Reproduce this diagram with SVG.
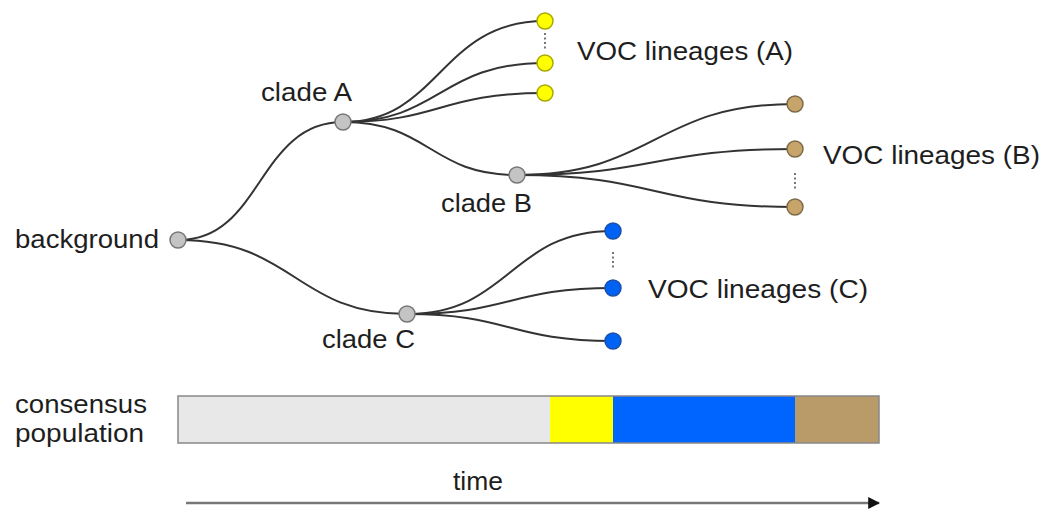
<svg xmlns="http://www.w3.org/2000/svg" width="1045" height="511" viewBox="0 0 1045 511">
  <style>
    text { font-family: "Liberation Sans", Arial, sans-serif; font-size: 26px; fill: #1e1e1e; }
    .edge { fill: none; stroke: #333; stroke-width: 2; }
    .dots { fill: none; stroke: #555; stroke-width: 1.6; stroke-dasharray: 2 2.5; }
    .clade { fill: #c4c4c4; stroke: #777; stroke-width: 1.5; }
    .volA { fill: #ffff00; stroke: #a8a800; stroke-width: 1.5; }
    .volB { fill: #c6a46a; stroke: #7d6a48; stroke-width: 1.5; }
    .volC { fill: #0062f5; stroke: #1d4fa8; stroke-width: 1.5; }
    .seg { stroke: none; }
  </style>
  <defs>
    <marker id="arrow" viewBox="0 0 10 10" refX="9" refY="5" markerWidth="12" markerHeight="12" markerUnits="userSpaceOnUse" orient="auto">
      <path d="M0,0 L10,5 L0,10 z" fill="#111"/>
    </marker>
  </defs>
  <rect width="1045" height="511" fill="#fff"/>

  <!-- tree branches -->
  <g id="connectors">
    <path class="edge" d="M179,240 C262,240 258,122 343,122"/>
    <path class="edge" d="M179,240 C295,240 295,314 407,314"/>
    <path class="edge" d="M343,122 C440,122 440,21 545,21"/>
    <path class="edge" d="M343,122 C440,122 440,63 545,63"/>
    <path class="edge" d="M343,122 C440,122 440,93 545,93"/>
    <path class="edge" d="M343,122 C430,122 430,175 517,175"/>
    <path class="edge" d="M517,175 C655,175 655,104 795,104"/>
    <path class="edge" d="M517,175 C655,175 655,149 795,149"/>
    <path class="edge" d="M517,175 C655,175 655,207 795,207"/>
    <path class="edge" d="M407,314 C510,314 510,231 613,231"/>
    <path class="edge" d="M407,314 C510,314 510,288 613,288"/>
    <path class="edge" d="M407,314 C510,314 510,341 613,341"/>
    <line class="dots" x1="545" y1="33" x2="545" y2="51"/>
    <line class="dots" x1="795" y1="173" x2="795" y2="190"/>
    <line class="dots" x1="613" y1="252" x2="613" y2="269"/>
  </g>

  <g id="background">
    <circle class="clade" cx="178" cy="240" r="8"/>
    <text x="15" y="248" textLength="144" lengthAdjust="spacingAndGlyphs">background</text>
  </g>
  <g id="cladeA">
    <circle class="clade" cx="343" cy="122" r="8"/>
    <text x="261" y="101" textLength="91" lengthAdjust="spacingAndGlyphs">clade A</text>
  </g>
  <g id="cladeB">
    <circle class="clade" cx="517" cy="175" r="8"/>
    <text x="441" y="212" textLength="91" lengthAdjust="spacingAndGlyphs">clade B</text>
  </g>
  <g id="cladeC">
    <circle class="clade" cx="407" cy="314" r="8"/>
    <text x="322" y="348" textLength="93" lengthAdjust="spacingAndGlyphs">clade C</text>
  </g>

  <g id="lineagesA">
    <circle class="volA" cx="545" cy="21" r="8"/>
    <circle class="volA" cx="545" cy="63" r="8"/>
    <circle class="volA" cx="545" cy="93" r="8"/>
    <text x="577" y="60" textLength="216" lengthAdjust="spacingAndGlyphs">VOC lineages (A)</text>
  </g>
  <g id="lineagesB">
    <circle class="volB" cx="795" cy="104" r="8"/>
    <circle class="volB" cx="795" cy="149" r="8"/>
    <circle class="volB" cx="795" cy="207" r="8"/>
    <text x="823" y="164" textLength="217" lengthAdjust="spacingAndGlyphs">VOC lineages (B)</text>
  </g>
  <g id="lineagesC">
    <circle class="volC" cx="613" cy="231" r="8"/>
    <circle class="volC" cx="613" cy="288" r="8"/>
    <circle class="volC" cx="613" cy="341" r="8"/>
    <text x="648" y="298" textLength="220" lengthAdjust="spacingAndGlyphs">VOC lineages (C)</text>
  </g>

  <!-- consensus population bar over time -->
  <g id="consensus">
    <text x="15" y="413" textLength="132" lengthAdjust="spacingAndGlyphs">consensus</text>
    <text x="15" y="442" textLength="129" lengthAdjust="spacingAndGlyphs">population</text>
    <rect class="seg" x="178" y="396" width="372" height="47" fill="#e8e8e8"/>
    <rect class="seg" x="550" y="396" width="63" height="47" fill="#ffff00"/>
    <rect class="seg" x="613" y="396" width="182" height="47" fill="#0064ff"/>
    <rect class="seg" x="795" y="396" width="84" height="47" fill="#b99b6a"/>
    <rect x="178" y="396" width="701" height="47" fill="none" stroke="#888" stroke-width="1.5"/>
  </g>

  <g id="timeAxis">
    <line x1="186" y1="503" x2="879" y2="503" stroke="#777" stroke-width="2.5" marker-end="url(#arrow)"/>
    <text x="453" y="490" textLength="50" lengthAdjust="spacingAndGlyphs">time</text>
  </g>
</svg>
